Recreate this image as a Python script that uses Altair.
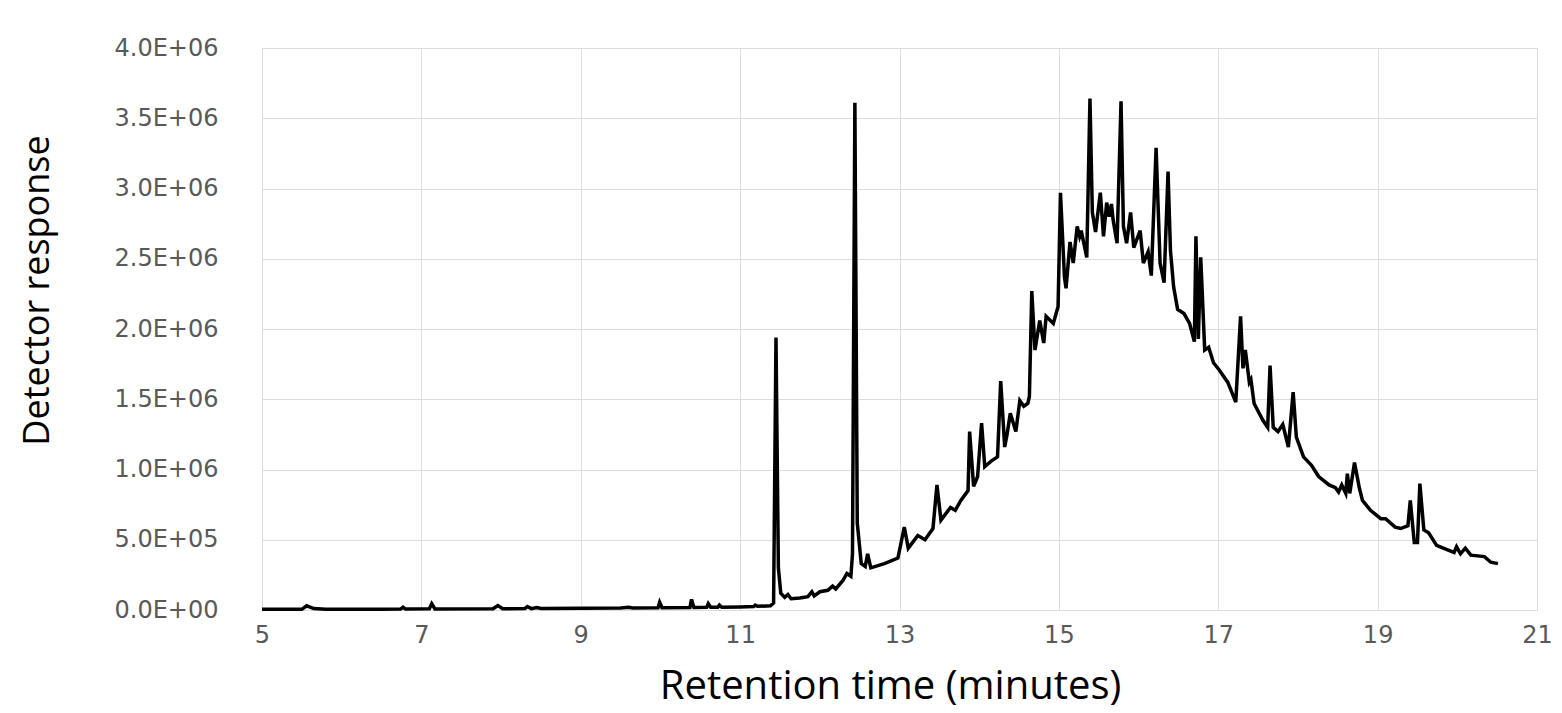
import altair as alt
import pandas as pd

# Retention time (minutes) and detector response
times = [
    5.00, 5.50, 5.56, 5.65, 5.80, 6.50, 6.74, 6.77, 6.80, 7.10, 7.13, 7.17,
    7.90, 7.96, 8.02, 8.30, 8.33, 8.38, 8.45, 8.50, 9.00, 9.50, 9.60, 9.65,
    9.97, 9.99, 10.02, 10.37, 10.39, 10.42, 10.58, 10.60, 10.63, 10.72, 10.74, 10.77,
    11.00, 11.17, 11.19, 11.22, 11.38, 11.42, 11.45, 11.48, 11.51, 11.56, 11.60, 11.64,
    11.75, 11.85, 11.90, 11.93, 12.00, 12.10, 12.16, 12.20, 12.29, 12.34, 12.39, 12.41,
    12.44, 12.47, 12.52, 12.57, 12.60, 12.64, 12.81, 12.98, 13.06, 13.11, 13.23, 13.32,
    13.42, 13.47, 13.52, 13.64, 13.70, 13.77, 13.86, 13.88, 13.93, 13.98, 14.03, 14.07,
    14.15, 14.23, 14.27, 14.32, 14.35, 14.39, 14.46, 14.51, 14.56, 14.61, 14.63, 14.66,
    14.70, 14.76, 14.81, 14.84, 14.93, 14.99, 15.02, 15.07, 15.09, 15.14, 15.18, 15.23,
    15.26, 15.28, 15.35, 15.39, 15.42, 15.46, 15.52, 15.56, 15.60, 15.63, 15.66, 15.68,
    15.73, 15.78, 15.81, 15.85, 15.90, 15.94, 16.02, 16.06, 16.12, 16.16, 16.22, 16.27,
    16.32, 16.37, 16.40, 16.44, 16.49, 16.57, 16.64, 16.70, 16.72, 16.75, 16.78, 16.83,
    16.88, 16.94, 17.01, 17.12, 17.22, 17.28, 17.31, 17.34, 17.39, 17.41, 17.45, 17.56,
    17.62, 17.65, 17.69, 17.75, 17.81, 17.88, 17.94, 17.98, 18.07, 18.17, 18.26, 18.39,
    18.47, 18.51, 18.55, 18.60, 18.62, 18.65, 18.71, 18.77, 18.81, 18.91, 19.04, 19.10,
    19.22, 19.29, 19.38, 19.41, 19.46, 19.50, 19.53, 19.58, 19.64, 19.74, 19.87, 19.96,
    19.99, 20.04, 20.10, 20.17, 20.34, 20.42, 20.51,
]

responses = [
    5e3, 5e3, 3.0e4, 1.0e4, 5e3, 6e3, 7e3, 2.0e4, 7e3, 8e3, 4.5e4, 8e3,
    9e3, 3.2e4, 9e3, 1.0e4, 2.5e4, 1.0e4, 1.8e4, 1.1e4, 1.2e4, 1.4e4, 2.0e4, 1.4e4,
    1.6e4, 5.5e4, 1.6e4, 1.8e4, 7.5e4, 1.8e4, 1.9e4, 4.5e4, 1.9e4, 2.0e4, 3.5e4, 2.0e4,
    2.2e4, 2.5e4, 3.5e4, 2.6e4, 3.0e4, 5.0e4, 1.94e6, 3.0e5, 1.2e5, 9.0e4, 1.1e5, 8.0e4,
    8.5e4, 9.5e4, 1.3e5, 1.0e5, 1.3e5, 1.4e5, 1.7e5, 1.5e5, 2.1e5, 2.6e5, 2.4e5, 4.0e5,
    3.61e6, 6.2e5, 3.3e5, 3.1e5, 4.0e5, 3.0e5, 3.3e5, 3.7e5, 5.9e5, 4.4e5, 5.3e5, 5.0e5,
    5.8e5, 8.9e5, 6.4e5, 7.3e5, 7.1e5, 7.8e5, 8.5e5, 1.27e6, 8.8e5, 9.5e5, 1.33e6, 1.02e6,
    1.06e6, 1.09e6, 1.63e6, 1.16e6, 1.25e6, 1.40e6, 1.27e6, 1.49e6, 1.45e6, 1.47e6, 1.52e6, 2.27e6,
    1.85e6, 2.06e6, 1.90e6, 2.09e6, 2.04e6, 2.16e6, 2.97e6, 2.37e6, 2.29e6, 2.62e6, 2.47e6, 2.73e6,
    2.66e6, 2.70e6, 2.51e6, 3.64e6, 2.83e6, 2.69e6, 2.97e6, 2.66e6, 2.90e6, 2.80e6, 2.89e6, 2.78e6,
    2.61e6, 3.62e6, 2.73e6, 2.61e6, 2.83e6, 2.58e6, 2.70e6, 2.47e6, 2.55e6, 2.38e6, 3.29e6, 2.47e6,
    2.33e6, 3.12e6, 2.56e6, 2.30e6, 2.14e6, 2.11e6, 2.04e6, 1.91e6, 2.66e6, 1.93e6, 2.51e6, 1.85e6,
    1.87e6, 1.76e6, 1.71e6, 1.62e6, 1.48e6, 2.09e6, 1.72e6, 1.85e6, 1.62e6, 1.64e6, 1.47e6, 1.35e6,
    1.30e6, 1.74e6, 1.30e6, 1.27e6, 1.32e6, 1.16e6, 1.55e6, 1.23e6, 1.09e6, 1.03e6, 9.5e5, 8.9e5,
    8.7e5, 8.4e5, 8.9e5, 8.3e5, 9.7e5, 8.3e5, 1.05e6, 8.7e5, 7.8e5, 7.1e5, 6.5e5, 6.5e5,
    5.9e5, 5.8e5, 6.0e5, 7.8e5, 4.8e5, 4.8e5, 9.0e5, 5.7e5, 5.5e5, 4.6e5, 4.3e5, 4.1e5,
    4.5e5, 4.0e5, 4.4e5, 3.9e5, 3.8e5, 3.4e5, 3.3e5,
]

x_ticks = [5, 7, 9, 11, 13, 15, 17, 19, 21]
y_ticks = [0, 5e5, 1e6, 1.5e6, 2e6, 2.5e6, 3e6, 3.5e6, 4e6]

df = pd.DataFrame({"t": times, "r": responses})

y_label_expr = (
    "datum.value == 0 ? '0.0E+00' : (datum.value < 1000000 ? "
    "format(datum.value / 100000, '.1f') + 'E+05' : "
    "format(datum.value / 1000000, '.1f') + 'E+06')"
)

chart = (
    alt.Chart(df)
    .mark_line(color="#000000", strokeWidth=3.5, strokeJoin="miter", strokeMiterLimit=4)
    .encode(
        x=alt.X(
            "t:Q",
            scale=alt.Scale(domain=[5, 21], nice=False, zero=False),
            axis=alt.Axis(
                values=x_ticks,
                title="Retention time (minutes)",
                titleFont="Open Sans",
                titleFontSize=40,
                titleFontWeight="normal",
                titleColor="#000000",
                titleX=628,
                titleY=76,
                titleBaseline="middle",
                titleAlign="center",
                labelFont="DejaVu Sans",
                labelFontSize=24,
                labelColor="#595959",
                labelPadding=13,
                ticks=False,
                domain=False,
                grid=True,
                gridColor="#dddddd",
                gridWidth=1,
                labelFlush=False,
            ),
        ),
        y=alt.Y(
            "r:Q",
            scale=alt.Scale(domain=[0, 4e6], nice=False),
            axis=alt.Axis(
                values=y_ticks,
                labelExpr=y_label_expr,
                title="Detector response",
                titleFont="Open Sans",
                titleFontSize=36,
                titleFontWeight="normal",
                titleColor="#000000",
                titleAngle=270,
                titleX=-225,
                titleY=242,
                titleBaseline="middle",
                titleAlign="center",
                labelFont="DejaVu Sans",
                labelFontSize=24,
                labelColor="#595959",
                labelPadding=44,
                ticks=False,
                domain=False,
                grid=True,
                gridColor="#dddddd",
                gridWidth=1,
                labelFlush=False,
            ),
        ),
    )
    .properties(
        width=1275,
        height=562,
        autosize=alt.AutoSizeParams(type="none"),
        padding={"left": 254, "top": 40, "right": 17, "bottom": 103},
    )
    .configure_view(strokeWidth=0)
    .configure(background="#ffffff")
)

chart.save("out.html", embed_options={"renderer": "svg", "actions": False})
